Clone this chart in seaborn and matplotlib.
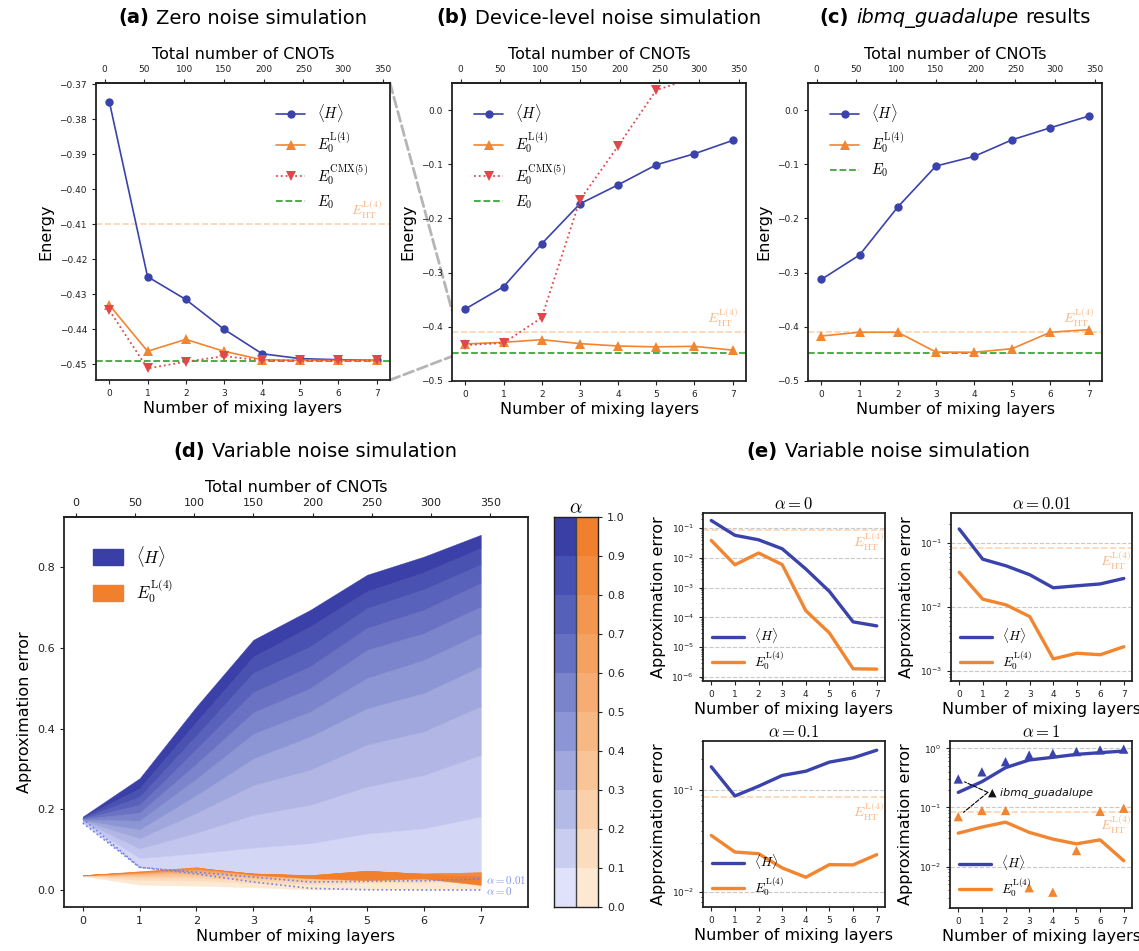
import matplotlib
matplotlib.use("Agg")
import matplotlib.pyplot as plt
import seaborn as sns
from matplotlib.patches import ConnectionPatch, Patch
from matplotlib.offsetbox import TextArea, HPacker, AnchoredOffsetbox
from matplotlib.transforms import blended_transform_factory
from matplotlib.ticker import LogLocator, NullFormatter

# ---------------- data ----------------
layers = [0, 1, 2, 3, 4, 5, 6, 7]
cnot_ticks = [0, 50, 100, 150, 200, 250, 300, 350]
cnots_per_layer = 48
cnots_base = 6

E0 = -0.449
E_HT = -0.41

zero_H = [-0.3751, -0.425, -0.4315, -0.44, -0.447, -0.4484, -0.4487, -0.4489]
zero_L4 = [-0.4331, -0.4463, -0.4429, -0.4463, -0.4487, -0.4489, -0.4489, -0.4489]
zero_CMX = [-0.4346, -0.4512, -0.4493, -0.4477, -0.4489, -0.4489, -0.4489, -0.4489]

dev_H = [-0.367, -0.326, -0.2467, -0.173, -0.138, -0.101, -0.0806, -0.056]
dev_L4 = [-0.4317, -0.4286, -0.4237, -0.431, -0.4354, -0.437, -0.436, -0.443]
dev_CMX = [-0.4336, -0.430, -0.383, -0.166, -0.0664, 0.0369, 0.06, 0.075]

ibm_H = [-0.3125, -0.2675, -0.179, -0.1033, -0.0855, -0.0547, -0.0326, -0.0111]
ibm_L4 = [-0.417, -0.410, -0.410, -0.4465, -0.447, -0.4403, -0.410, -0.4053]

# (d) boundaries of the alpha bands, lowest (alpha=0.01) to highest (alpha=1)
var_H_bands = [
    [0.166, 0.057, 0.046, 0.033, 0.020, 0.021, 0.023, 0.028],
    [0.168, 0.079, 0.091, 0.105, 0.116, 0.140, 0.153, 0.182],
    [0.170, 0.103, 0.142, 0.186, 0.211, 0.256, 0.285, 0.335],
    [0.1715, 0.128, 0.191, 0.260, 0.298, 0.360, 0.393, 0.455],
    [0.173, 0.150, 0.235, 0.326, 0.380, 0.450, 0.488, 0.554],
    [0.1745, 0.172, 0.276, 0.387, 0.442, 0.525, 0.570, 0.636],
    [0.176, 0.192, 0.313, 0.440, 0.500, 0.595, 0.636, 0.702],
    [0.1775, 0.211, 0.349, 0.490, 0.554, 0.649, 0.694, 0.760],
    [0.179, 0.231, 0.383, 0.538, 0.603, 0.698, 0.745, 0.806],
    [0.1805, 0.252, 0.417, 0.578, 0.653, 0.740, 0.787, 0.847],
    [0.182, 0.277, 0.455, 0.620, 0.694, 0.781, 0.826, 0.880],
]
var_L4_bands = [
    [0.035, 0.0133, 0.0108, 0.0071, 0.00155, 0.0019, 0.0018, 0.0024],
    [0.0358, 0.0246, 0.0237, 0.0172, 0.0139, 0.0185, 0.0184, 0.0232],
    [0.036, 0.031, 0.031, 0.024, 0.020, 0.026, 0.025, 0.030],
    [0.036, 0.035, 0.036, 0.029, 0.025, 0.032, 0.030, 0.035],
    [0.036, 0.038, 0.041, 0.033, 0.029, 0.037, 0.034, 0.038],
    [0.036, 0.040, 0.045, 0.036, 0.032, 0.041, 0.037, 0.040],
    [0.036, 0.042, 0.048, 0.038, 0.034, 0.044, 0.039, 0.042],
    [0.037, 0.043, 0.051, 0.040, 0.035, 0.046, 0.040, 0.043],
    [0.037, 0.044, 0.053, 0.041, 0.036, 0.047, 0.041, 0.044],
    [0.037, 0.045, 0.055, 0.041, 0.037, 0.048, 0.040, 0.035],
    [0.0368, 0.0466, 0.0565, 0.038, 0.0292, 0.0243, 0.0284, 0.0126],
]
cbar_bounds = [0.0, 0.1, 0.2, 0.3, 0.4, 0.5, 0.6, 0.7, 0.8, 0.9, 1.0]
blue_levels = ['#dfe2fa', '#c9cdf0', '#b4bae6', '#a0a8dd', '#8c95d5',
               '#7a84cb', '#6670c2', '#5560b9', '#4650b2', '#3a3fa6']
band_blue = ['#d3d7f5', '#c2c6ee', '#b1b6e5', '#a0a7dd', '#8d96d5',
             '#7b85cc', '#6a73c3', '#5962ba', '#4952b1', '#3a40a7']
orange_levels = ['#fde8d2', '#fcdcbe', '#fbd0aa', '#f9c496', '#f8b884',
                 '#f6ac72', '#f5a160', '#f3964f', '#f28b3e', '#f07f2e']

# (e) approximation errors
HT_err = 0.085
e0_H = [0.177, 0.0566, 0.040, 0.020, 0.0042, 0.00074, 7.1e-5, 5.2e-5]
e0_L4 = [0.038, 0.0058, 0.0144, 0.0059, 1.68e-4, 3.0e-5, 1.9e-6, 1.85e-6]
e001_H = [0.166, 0.056, 0.044, 0.032, 0.020, 0.0215, 0.023, 0.028]
e001_L4 = [0.035, 0.0133, 0.0108, 0.0071, 0.00155, 0.0019, 0.0018, 0.0024]
e01_H = [0.169, 0.0874, 0.109, 0.139, 0.153, 0.188, 0.207, 0.246]
e01_L4 = [0.0358, 0.0246, 0.0237, 0.0172, 0.0139, 0.0185, 0.0184, 0.0232]
e1_H = [0.18, 0.273, 0.471, 0.635, 0.705, 0.79, 0.845, 0.90]
e1_L4 = [0.0368, 0.0466, 0.0565, 0.038, 0.0292, 0.0243, 0.0284, 0.0126]
ibm_H_err = [0.303, 0.40, 0.595, 0.77, 0.82, 0.88, 0.94, 0.97]
ibm_L4_err = [0.070, 0.089, 0.089, 0.0044, 0.0037, 0.0187, 0.086, 0.097]

# ---------------- style ----------------
sns.set_theme(style="ticks")
plt.rcParams['font.family'] = ['DejaVu Sans']
plt.rcParams['mathtext.fontset'] = 'cm'
plt.rcParams['axes.linewidth'] = 1.3
plt.rcParams['axes.edgecolor'] = '#222222'
plt.rcParams['text.color'] = 'black'
plt.rcParams['axes.labelcolor'] = 'black'
plt.rcParams['xtick.major.size'] = 3
plt.rcParams['ytick.major.size'] = 3
plt.rcParams['xtick.major.width'] = 0.8
plt.rcParams['ytick.major.width'] = 0.8
plt.rcParams['xtick.color'] = '#222222'
plt.rcParams['ytick.color'] = '#222222'

C_BLUE = '#3a43ab'
C_ORANGE = '#f28530'
C_RED = '#e0474c'
C_GREEN = '#3fa53a'
C_HT = '#fdd3b0'
C_HT_TXT = '#f8b785'
C_DOT = '#7080e8'
LAB = 11.5

L_H = r'$\langle H\rangle$'
L_L4 = r'$E_0^{\mathrm{L}(4)}$'
L_CMX = r'$E_0^{\mathrm{CMX}(5)}$'
L_E0 = r'$E_0$'
L_HT = r'$E_{\mathrm{HT}}^{\mathrm{L}(4)}$'

W, H = 1139, 951
fig = plt.figure(figsize=(W / 100, H / 100), dpi=100)


def px_axes(l, t, r, b):
    return fig.add_axes([l / W, 1 - b / H, (r - l) / W, (b - t) / H])


def add_top(ax, ts):
    sec = ax.secondary_xaxis('top', functions=(lambda L: cnots_base + cnots_per_layer * L,
                                               lambda c: (c - cnots_base) / cnots_per_layer))
    sec.set_xticks(cnot_ticks)
    sec.tick_params(labelsize=ts, length=3, width=0.8)
    sec.set_xlabel('Total number of CNOTs', fontsize=LAB)
    return sec


def title(parts, x, y):
    kids = [TextArea(t, textprops=dict(fontsize=14, color='black', **p)) for t, p in parts]
    box = HPacker(children=kids, align='baseline', pad=0, sep=5)
    anch = AnchoredOffsetbox(loc='center', child=box, pad=0, borderpad=0, frameon=False,
                             bbox_to_anchor=(x / W, 1 - y / H), bbox_transform=fig.transFigure)
    fig.add_artist(anch)


def energy_panel(ax, Hv, L4v, CMXv, ylim, legloc):
    sns.lineplot(x=layers, y=Hv, ax=ax, color=C_BLUE, marker='o', markersize=6,
                 markeredgewidth=0, lw=1.2, label=L_H)
    sns.lineplot(x=layers, y=L4v, ax=ax, color=C_ORANGE, marker='^', markersize=6.5,
                 markeredgewidth=0, lw=1.2, label=L_L4)
    if CMXv is not None:
        sns.lineplot(x=layers, y=CMXv, ax=ax, color=C_RED, marker='v', markersize=6.5,
                     markeredgewidth=0, lw=1.3, ls=':', label=L_CMX)
    ax.axhline(E0, color=C_GREEN, ls='--', lw=1.3, label=L_E0, zorder=1)
    ax.axhline(E_HT, color=C_HT, ls='--', lw=1.2, zorder=0.5)
    ax.text(7.15, E_HT + (ylim[1] - ylim[0]) * 0.012, L_HT, color=C_HT_TXT, fontsize=10,
            ha='right', va='bottom')
    ax.set_ylim(ylim)
    ax.set_xlim(-0.35, 7.35)
    ax.set_xticks(layers)
    ax.tick_params(labelsize=6.5)
    ax.set_xlabel('Number of mixing layers', fontsize=LAB, labelpad=2)
    ax.set_ylabel('Energy', fontsize=LAB)
    if legloc == 'upper right':
        ax.legend(loc='upper right', bbox_to_anchor=(0.97, 0.98), frameon=False, fontsize=10.5,
                  handlelength=2.0, labelspacing=0.45)
    else:
        ax.legend(loc='upper left', bbox_to_anchor=(0.03, 0.98), frameon=False, fontsize=10.5,
                  handlelength=2.0, labelspacing=0.45)
    add_top(ax, 6.5)


# ---------------- (a) (b) (c) ----------------
ax_a = px_axes(96, 83, 390, 380)
energy_panel(ax_a, zero_H, zero_L4, zero_CMX, (-0.4545, -0.3697), 'upper right')
ax_a.set_yticks([-0.45, -0.44, -0.43, -0.42, -0.41, -0.40, -0.39, -0.38, -0.37])

ax_b = px_axes(452, 83, 746, 381)
energy_panel(ax_b, dev_H, dev_L4, dev_CMX, (-0.5, 0.05), 'upper left')
ax_b.set_yticks([-0.5, -0.4, -0.3, -0.2, -0.1, 0.0])

ax_c = px_axes(808, 83, 1102, 381)
energy_panel(ax_c, ibm_H, ibm_L4, None, (-0.5, 0.05), 'upper left')
ax_c.set_yticks([-0.5, -0.4, -0.3, -0.2, -0.1, 0.0])

ylim_a = ax_a.get_ylim()
for yv in ylim_a:
    con = ConnectionPatch(xyA=(ax_a.get_xlim()[1], yv), coordsA=ax_a.transData,
                          xyB=(ax_b.get_xlim()[0], yv), coordsB=ax_b.transData,
                          color='#b5b5b5', ls='--', lw=2, zorder=0)
    fig.add_artist(con)

title([('(a)', dict(fontweight='bold')), ('Zero noise simulation', {})], 243, 18)
title([('(b)', dict(fontweight='bold')), ('Device-level noise simulation', {})], 599, 18)
title([('(c)', dict(fontweight='bold')), ('ibmq_guadalupe', dict(style='italic')),
       ('results', {})], 955, 18)

# ---------------- (d) ----------------
ax_d = px_axes(64, 517, 528, 907)
for k in range(10):
    ax_d.fill_between(layers, var_H_bands[k], var_H_bands[k + 1], color=band_blue[k],
                      lw=0.3, edgecolor=band_blue[k], zorder=1)
for k in range(10):
    ax_d.fill_between(layers, var_L4_bands[k], var_L4_bands[k + 1], color=orange_levels[k],
                      lw=0.3, edgecolor=orange_levels[k], zorder=2)
sns.lineplot(x=layers, y=e001_H, ax=ax_d, color=C_DOT, ls=':', lw=1.2, zorder=3)
sns.lineplot(x=layers, y=e0_H, ax=ax_d, color=C_DOT, ls=':', lw=1.2, zorder=3)
ax_d.text(7.1, e001_H[-1] - 0.004, r'$\alpha=0.01$', color='#8393f0', fontsize=8, va='center')
ax_d.text(7.1, e0_H[-1] - 0.002, r'$\alpha=0$', color='#8393f0', fontsize=8, va='center')
ax_d.set_xlim(-0.33, 7.83)
ax_d.set_ylim(-0.042, 0.924)
ax_d.set_xticks(layers)
ax_d.set_yticks([0.0, 0.2, 0.4, 0.6, 0.8])
ax_d.tick_params(labelsize=8)
ax_d.set_xlabel('Number of mixing layers', fontsize=LAB, labelpad=2)
ax_d.set_ylabel('Approximation error', fontsize=LAB)
ax_d.legend(handles=[Patch(color=blue_levels[-1]), Patch(color=orange_levels[-1])],
            labels=[L_H, L_L4], loc='upper left', bbox_to_anchor=(0.03, 0.97), frameon=False,
            fontsize=12, handlelength=1.8, handleheight=1.1, labelspacing=0.5)
add_top(ax_d, 8)
title([('(d)', dict(fontweight='bold')), ('Variable noise simulation', {})], 315, 452)

# colorbar
ax_cb = px_axes(554, 517, 598, 907)
lo = cbar_bounds[:-1]
ax_cb.bar([0.5] * 10, [0.1] * 10, bottom=lo, width=1, color=blue_levels, lw=0, align='center')
ax_cb.bar([1.5] * 10, [0.1] * 10, bottom=lo, width=1, color=orange_levels, lw=0, align='center')
ax_cb.axvline(1, color='#444444', lw=1)
ax_cb.set_xlim(0, 2)
ax_cb.set_ylim(0, 1)
ax_cb.set_xticks([])
ax_cb.yaxis.tick_right()
ax_cb.set_yticks(cbar_bounds)
ax_cb.tick_params(labelsize=8)
ax_cb.set_title(r'$\alpha$', fontsize=14, pad=3)
for s in ax_cb.spines.values():
    s.set_linewidth(1.0)

title([('(e)', dict(fontweight='bold')), ('Variable noise simulation', {})], 888, 452)


# ---------------- (e) ----------------
def err_panel(box, Hv, L4v, ttl, ylim):
    ax = px_axes(*box)
    ax.set_axisbelow(True)
    sns.lineplot(x=layers, y=Hv, ax=ax, color=C_BLUE, lw=2.4, label=L_H, zorder=3)
    sns.lineplot(x=layers, y=L4v, ax=ax, color=C_ORANGE, lw=2.4, label=L_L4, zorder=3)
    ax.set_yscale('log')
    ax.axhline(HT_err, color=C_HT, ls='--', lw=1.2, zorder=1)
    ax.text(0.995, HT_err * 0.93, L_HT, transform=blended_transform_factory(ax.transAxes, ax.transData),
            ha='right', va='top', color=C_HT_TXT, fontsize=10)
    ax.yaxis.set_major_locator(LogLocator(base=10, numticks=15))
    ax.yaxis.set_minor_locator(LogLocator(base=10, subs=[0.2, 0.3, 0.4, 0.5, 0.6, 0.7, 0.8, 0.9], numticks=15))
    ax.yaxis.set_minor_formatter(NullFormatter())
    ax.yaxis.grid(True, which='major', ls='--', color='#c8c8c8', lw=0.8)
    ax.set_ylim(ylim)
    ax.set_xlim(-0.35, 7.35)
    ax.set_xticks(layers)
    ax.tick_params(labelsize=6.5)
    ax.tick_params(axis='y', which='minor', length=1.8, width=0.6)
    ax.set_xlabel('Number of mixing layers', fontsize=LAB, labelpad=2)
    ax.set_ylabel('Approximation error', fontsize=LAB)
    ax.set_title(ttl, fontsize=12, pad=3)
    ax.legend(loc='lower left', frameon=False, fontsize=9.5, handlelength=2.4,
              borderaxespad=0.3, labelspacing=0.3)
    return ax


err_panel((703, 513, 885, 681), e0_H, e0_L4, r'$\alpha = 0$', (7.4e-7, 0.316))
err_panel((951, 513, 1132, 681), e001_H, e001_L4, r'$\alpha = 0.01$', (7e-4, 0.295))
err_panel((703, 741, 885, 907), e01_H, e01_L4, r'$\alpha = 0.1$', (7.1e-3, 0.303))
ax_e4 = err_panel((950, 741, 1132, 908), e1_H, e1_L4, r'$\alpha = 1$', (2e-3, 1.33))
sns.scatterplot(x=layers, y=ibm_H_err, ax=ax_e4, marker='^', s=45, color=C_BLUE,
                edgecolor='none', zorder=4)
sns.scatterplot(x=layers, y=ibm_L4_err, ax=ax_e4, marker='^', s=45, color=C_ORANGE,
                edgecolor='none', zorder=4)
txt_xy = (1.25, 0.18)
for yv in (ibm_H_err[0], ibm_L4_err[0]):
    ax_e4.annotate('', xy=(layers[0], yv), xytext=txt_xy,
                   arrowprops=dict(arrowstyle='-', ls='--', color='black', lw=0.8,
                                   shrinkA=0, shrinkB=5))
ax_e4.text(txt_xy[0] + 0.02, txt_xy[1], '\u25b2 ibmq_guadalupe', fontsize=8, style='italic',
           va='center', ha='left', color='#111111')
ax_e4.get_legend().remove()
ax_e4.legend(handles=ax_e4.get_lines()[:2], labels=[L_H, L_L4], loc='lower left',
             frameon=False, fontsize=9.5, handlelength=2.4, borderaxespad=0.3, labelspacing=0.3)

fig.savefig('out.png', dpi=100)
